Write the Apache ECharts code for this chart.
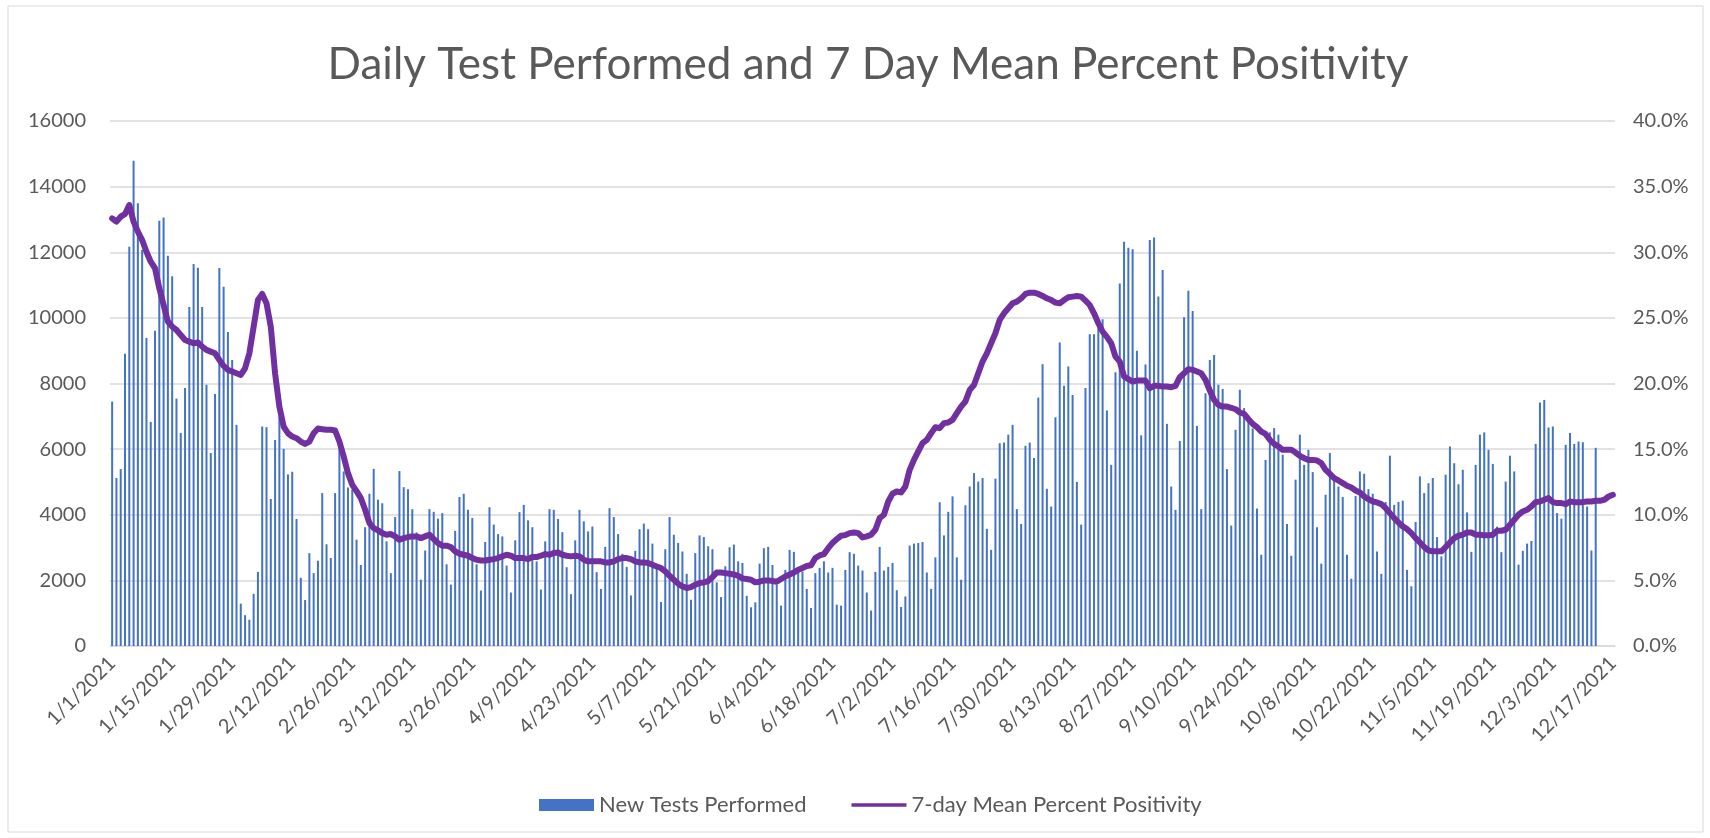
<!DOCTYPE html>
<html>
<head>
<meta charset="utf-8">
<title>Daily Test Performed and 7 Day Mean Percent Positivity</title>
<script src="https://cdn.jsdelivr.net/npm/echarts@6/dist/echarts.min.js"></script>
<style>
  html, body { margin: 0; padding: 0; background: #fff; }
  #chart { width: 1710px; height: 838px; }
</style>
</head>
<body>
<div id="chart"></div>
<script>
// daily tests (1/1/2021 .. 12/13/2021)
var newTests = [
  7450, 5120, 5390, 8910, 12170, 14790, 13490, 12070, 9390, 6830,
  9610, 12960, 13060, 11890, 11270, 7540, 6490, 7860, 10330, 11640,
  11530, 10330, 7960, 5880, 7680, 11520, 10950, 9570, 8720, 6740,
  1290, 940, 800, 1590, 2260, 6690, 6670, 4480, 6280, 7000,
  6010, 5230, 5310, 3870, 2080, 1400, 2830, 2220, 2600, 4660,
  3100, 2680, 4660, 6130, 5320, 4830, 4760, 3240, 2470, 3620,
  4640, 5400, 4460, 4350, 3190, 2220, 3930, 5330, 4840, 4780,
  4170, 3460, 2020, 2910, 4170, 4090, 3880, 4050, 2490, 1870,
  3510, 4540, 4640, 4150, 3900, 2490, 1690, 3170, 4230, 3700,
  3410, 3340, 2450, 1630, 3220, 4080, 4300, 3830, 3620, 2580,
  1720, 3190, 4170, 4150, 3870, 3470, 2400, 1580, 3220, 4150,
  3800, 3490, 3640, 2250, 1740, 3020, 4200, 3930, 3410, 2810,
  2410, 1540, 2900, 3560, 3730, 3560, 3120, 2480, 1340, 2950,
  3930, 3390, 3140, 2880, 2200, 1410, 2830, 3370, 3320, 3040,
  2950, 1940, 1490, 2430, 3010, 3090, 2580, 2530, 1530, 1180,
  1330, 2510, 2980, 3020, 2470, 1870, 1230, 2320, 2930, 2870,
  2400, 2270, 1740, 1160, 2220, 2380, 2580, 2240, 2380, 1260,
  1230, 2320, 2860, 2810, 2450, 2300, 1630, 1080, 2260, 3020,
  2300, 2410, 2530, 1700, 1190, 1510, 3060, 3120, 3140, 3170,
  2240, 1740, 2700, 4380, 3370, 4090, 4560, 2700, 2020, 4290,
  4860, 5270, 5010, 5120, 3570, 2930, 5100, 6180, 6200, 6440,
  6740, 4170, 3720, 6100, 6200, 5730, 7570, 8590, 4790, 4250,
  6970, 9250, 7930, 8520, 7650, 5000, 3700, 7860, 9500, 9500,
  9860, 9960, 7180, 5520, 8340, 11050, 12320, 12140, 12090, 9000,
  6420, 8580, 12370, 12450, 10650, 11460, 6770, 4860, 4150, 6250,
  10020, 10830, 10210, 6710, 4170, 7700, 8720, 8870, 7960, 7830,
  5390, 3670, 6590, 7810, 7250, 6890, 6630, 4190, 2780, 5670,
  6510, 6640, 6440, 5830, 3720, 2750, 5070, 6440, 5520, 5980,
  5300, 3620, 2510, 4610, 5880, 5120, 4860, 4540, 2780, 2050,
  4570, 5320, 5250, 4780, 4640, 2880, 2200, 4390, 5800, 4300,
  4390, 4430, 2320, 1820, 3780, 5170, 4660, 4960, 5120, 3320,
  2730, 5220, 6080, 5570, 4930, 5370, 4070, 2870, 5520, 6440,
  6510, 5980, 5550, 3640, 2860, 5010, 5800, 5320, 2480, 2900,
  3120, 3200, 6160, 7420, 7500, 6660, 6690, 4050, 3880, 6130,
  6490, 6160, 6230, 6210, 4250, 2910, 6040
];

// 7-day mean percent positivity (1/1/2021 .. 12/17/2021)
var positivity = [
  32.58, 32.33, 32.71, 32.91, 33.60, 32.33, 31.57, 30.93, 30.04, 29.28,
  28.78, 27.25, 25.98, 24.72, 24.33, 24.08, 23.70, 23.32, 23.19, 23.07,
  23.12, 22.81, 22.56, 22.43, 22.30, 21.80, 21.34, 21.04, 20.91, 20.78,
  20.66, 21.16, 22.30, 24.33, 26.36, 26.82, 26.11, 24.33, 20.78, 18.24,
  16.72, 16.21, 15.96, 15.83, 15.58, 15.40, 15.58, 16.21, 16.57, 16.52,
  16.47, 16.47, 16.42, 15.58, 14.44, 13.17, 12.28, 11.80, 11.27, 10.38,
  9.36, 8.98, 8.81, 8.60, 8.48, 8.53, 8.35, 8.09, 8.22, 8.30,
  8.35, 8.35, 8.22, 8.35, 8.48, 8.15, 7.84, 7.64, 7.64, 7.54,
  7.21, 7.03, 6.95, 6.88, 6.70, 6.57, 6.52, 6.52, 6.57, 6.62,
  6.70, 6.83, 6.95, 6.88, 6.70, 6.70, 6.70, 6.62, 6.78, 6.78,
  6.88, 7.00, 6.95, 7.08, 7.13, 6.95, 6.88, 6.83, 6.88, 6.83,
  6.57, 6.45, 6.45, 6.45, 6.45, 6.37, 6.37, 6.45, 6.62, 6.70,
  6.70, 6.62, 6.45, 6.37, 6.37, 6.32, 6.19, 6.06, 5.94, 5.68,
  5.35, 5.05, 4.75, 4.54, 4.42, 4.49, 4.67, 4.80, 4.85, 4.95,
  5.25, 5.60, 5.60, 5.55, 5.50, 5.45, 5.35, 5.15, 5.10, 5.05,
  4.85, 4.90, 5.00, 5.00, 4.95, 4.90, 5.10, 5.30, 5.45, 5.60,
  5.80, 5.95, 6.10, 6.15, 6.70, 6.90, 7.00, 7.45, 7.85, 8.15,
  8.40, 8.45, 8.60, 8.65, 8.60, 8.27, 8.35, 8.48, 8.86, 9.74,
  10.00, 11.01, 11.60, 11.77, 11.70, 12.15, 13.42, 14.18, 14.82, 15.45,
  15.71, 16.21, 16.67, 16.60, 16.98, 17.03, 17.23, 17.74, 18.24, 18.63,
  19.51, 19.89, 20.78, 21.67, 22.30, 23.07, 23.83, 24.84, 25.35, 25.73,
  26.11, 26.24, 26.49, 26.82, 26.92, 26.92, 26.82, 26.67, 26.49, 26.36,
  26.16, 26.11, 26.36, 26.57, 26.62, 26.67, 26.62, 26.31, 25.98, 25.35,
  24.59, 23.95, 23.55, 23.07, 22.05, 21.67, 20.53, 20.33, 20.15, 20.22,
  20.22, 20.22, 19.64, 19.82, 19.82, 19.77, 19.77, 19.72, 19.82, 20.48,
  20.78, 21.09, 21.04, 20.91, 20.78, 20.27, 19.46, 18.75, 18.37, 18.24,
  18.24, 18.15, 18.04, 17.79, 17.69, 17.28, 16.93, 16.67, 16.34, 16.16,
  15.71, 15.40, 15.20, 14.95, 14.95, 14.95, 14.74, 14.49, 14.31, 14.18,
  14.18, 14.13, 13.93, 13.42, 13.12, 12.79, 12.61, 12.41, 12.21, 12.08,
  11.85, 11.70, 11.39, 11.19, 11.01, 10.94, 10.81, 10.51, 10.12, 9.74,
  9.41, 9.11, 8.91, 8.60, 8.22, 7.89, 7.54, 7.28, 7.21, 7.21,
  7.21, 7.54, 7.89, 8.22, 8.40, 8.48, 8.65, 8.65, 8.48, 8.48,
  8.43, 8.43, 8.48, 8.78, 8.78, 8.86, 9.24, 9.62, 10.00, 10.25,
  10.38, 10.63, 10.96, 11.01, 11.14, 11.27, 10.96, 10.89, 10.89, 10.81,
  11.01, 10.96, 10.96, 10.96, 11.01, 11.01, 11.06, 11.06, 11.14, 11.39,
  11.52
];

// one category per day, 1/1/2021 .. 12/17/2021
var days = [];
for (var d = new Date(2021, 0, 1); d <= new Date(2021, 11, 17); d.setDate(d.getDate() + 1)) {
  days.push((d.getMonth() + 1) + '/' + d.getDate() + '/' + d.getFullYear());
}

var txt = '#595959';
var fontName = 'Lato';
// thick flat line for the legend (corner dots only keep the box 0..11 high)
var lineIcon = 'path://M0,0 L0.01,0 M0,2.5 L100,2.5 L100,8.5 L0,8.5 Z M0,11 L0.01,11';

var myChart = echarts.init(document.getElementById('chart'));
var option = {
  backgroundColor: '#fff',
  animation: false,
  title: {
    text: 'Daily Test Performed and 7 Day Mean Percent Positivity',
    left: 863,
    textAlign: 'center',
    top: 38,
    textStyle: { color: txt, fontSize: 44, fontWeight: 'normal', fontFamily: fontName }
  },
  graphic: [{
    type: 'rect',
    shape: { x: 8, y: 6, width: 1695, height: 826 },
    style: { fill: 'none', stroke: '#d9d9d9', lineWidth: 1 }
  }],
  legend: {
    bottom: 17,
    left: 534,
    itemGap: 45,
    itemWidth: 55,
    itemHeight: 12,
    textStyle: { color: txt, fontSize: 22, fontFamily: fontName },
    data: [
      { name: 'New Tests Performed', icon: 'rect' },
      { name: '7-day Mean Percent Positivity', icon: lineIcon }
    ]
  },
  grid: { left: 110, right: 95, top: 121, bottom: 192 },
  xAxis: {
    type: 'category',
    data: days,
    boundaryGap: true,
    axisLine: { lineStyle: { color: '#d9d9d9', width: 1.5 } },
    axisTick: { show: false },
    axisLabel: {
      interval: 13,
      rotate: 45,
      margin: 14,
      color: txt,
      fontSize: 20,
      fontFamily: fontName
    }
  },
  yAxis: [{
    type: 'value',
    min: 0,
    max: 16000,
    interval: 2000,
    axisLabel: {
      color: txt, fontSize: 20, fontFamily: fontName, margin: 24,
      formatter: function(v) { return String(v); }
    },
    splitLine: { lineStyle: { color: '#d9d9d9', width: 1.5 } },
    axisLine: { show: false },
    axisTick: { show: false }
  }, {
    type: 'value',
    min: 0,
    max: 40,
    interval: 5,
    axisLabel: {
      color: txt, fontSize: 20, fontFamily: fontName, margin: 18,
      formatter: function(v) { return v.toFixed(1) + '%'; }
    },
    splitLine: { show: false },
    axisLine: { show: false },
    axisTick: { show: false }
  }],
  series: [{
    name: 'New Tests Performed',
    type: 'bar',
    data: newTests,
    barWidth: 2,
    itemStyle: { color: '#4472c4' }
  }, {
    name: '7-day Mean Percent Positivity',
    type: 'line',
    yAxisIndex: 1,
    data: positivity,
    symbol: 'none',
    smooth: false,
    lineStyle: { color: '#7030a0', width: 6, cap: 'round', join: 'round' },
    itemStyle: { color: '#7030a0' }
  }]
};
myChart.setOption(option);
</script>
</body>
</html>
